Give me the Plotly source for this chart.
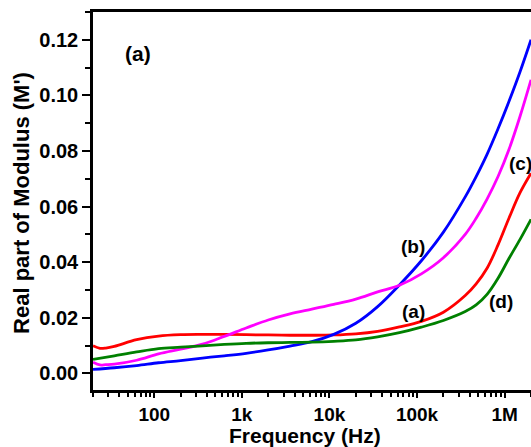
import plotly.graph_objects as go

freq = [20, 35, 63, 112, 200, 355, 630, 1120, 2000, 3550, 6300, 11200,
        20000, 35500, 63000, 112000, 200000, 355000, 473000, 630000, 841000,
        1120000, 1500000, 2000000]
freq_dip = [20, 24, 28] + freq[1:]   # extra low-frequency points for curves with a dip

# (a) red
m_a = [0.0099, 0.0090, 0.0091, 0.0097, 0.0121, 0.0134, 0.0139, 0.0140, 0.0140, 0.0139,
       0.0138, 0.0137, 0.0137, 0.0138, 0.0142, 0.0151, 0.0167, 0.0187, 0.0220, 0.0280,
       0.0322, 0.0378, 0.0462, 0.0558, 0.0650, 0.0720]
# (b) blue
m_b = [0.0014, 0.0020, 0.0028, 0.0038, 0.0046, 0.0055, 0.0063, 0.0072, 0.0084, 0.0098,
       0.0114, 0.0140, 0.0180, 0.0240, 0.0318, 0.0405, 0.0508, 0.0635, 0.0708, 0.0788,
       0.0880, 0.0978, 0.1085, 0.1200]
# (c) magenta
m_c = [0.0040, 0.0030, 0.0031, 0.0033, 0.0047, 0.0070, 0.0087, 0.0105, 0.0133, 0.0163,
       0.0192, 0.0214, 0.0231, 0.0248, 0.0267, 0.0293, 0.0317, 0.0358, 0.0416, 0.0500,
       0.0558, 0.0627, 0.0708, 0.0805, 0.0925, 0.1056]
# (d) green
m_d = [0.0050, 0.0063, 0.0077, 0.0089, 0.0094, 0.0099, 0.0104, 0.0108, 0.0110, 0.0111,
       0.0112, 0.0115, 0.0120, 0.0131, 0.0146, 0.0166, 0.0190, 0.0222, 0.0246, 0.0284,
       0.0342, 0.0413, 0.0482, 0.0554]

series = [
    (freq_dip, m_a, "#ff0000"),
    (freq, m_b, "#0000ff"),
    (freq_dip, m_c, "#ff00ff"),
    (freq, m_d, "#008000"),
]

x_tickvals = [100, 1e3, 1e4, 1e5, 1e6]
x_ticktext = ["100", "1k", "10k", "100k", "1M"]
x_minor = [k * 10 ** d for d in range(1, 7) for k in range(2, 10) if 20 <= k * 10 ** d <= 2e6]
y_tickvals = [0.0, 0.02, 0.04, 0.06, 0.08, 0.10, 0.12]
y_ticktext = ["0.00", "0.02", "0.04", "0.06", "0.08", "0.10", "0.12"]

FONT = "Liberation Sans, Arial, sans-serif"

fig = go.Figure()
for f, m, col in series:
    fig.add_trace(go.Scatter(x=f, y=m, mode="lines",
                             line=dict(color=col, width=2.8, shape="spline", smoothing=1.0)))

curve_labels = [
    ("(b)", 4.95, 0.0455),
    ("(a)", 4.96, 0.0221),
    ("(d)", 5.955, 0.0257),
    ("(c)", 6.18, 0.0756),
]
for t, lx, ly in curve_labels:
    fig.add_annotation(x=lx, y=ly, text=t, showarrow=False,
                       font=dict(family=FONT, size=19, color="black", weight="bold"))
fig.add_annotation(x=1.81, y=0.115, text="(a)", showarrow=False,
                   font=dict(family=FONT, size=21, color="black", weight="bold"))

# axis titles
fig.add_annotation(xref="paper", yref="paper", x=0.484, y=-0.121, text="Frequency (Hz)",
                   showarrow=False, xanchor="center", yanchor="middle",
                   font=dict(family=FONT, size=21, color="black", weight="bold"))
fig.add_annotation(xref="paper", yref="paper", x=-0.162, y=0.495, text="Real part of Modulus (M')",
                   showarrow=False, xanchor="center", yanchor="middle", textangle=-90,
                   font=dict(family=FONT, size=22, color="black", weight="bold"))

fig.update_layout(
    width=531, height=447,
    margin=dict(l=93, r=0, t=12, b=57),
    plot_bgcolor="white", paper_bgcolor="white",
    showlegend=False,
    font=dict(family=FONT, color="black"),
)
fig.update_xaxes(
    type="log", range=[1.30103, 6.30103],
    showline=True, linecolor="black", linewidth=2.5, mirror=True,
    showgrid=False, zeroline=False,
    ticks="outside", ticklen=5, tickwidth=2, tickcolor="black",
    tickvals=x_tickvals, ticktext=x_ticktext,
    tickfont=dict(family=FONT, size=19, weight="bold"),
    minor=dict(ticks="outside", ticklen=4, tickwidth=2, tickcolor="black", tickvals=x_minor),
)
fig.update_yaxes(
    range=[-0.006, 0.13],
    showline=True, linecolor="black", linewidth=2.5, mirror=False,
    showgrid=False, zeroline=False,
    ticks="outside", ticklen=8, tickwidth=2, tickcolor="black",
    tickvals=y_tickvals, ticktext=y_ticktext,
    tickfont=dict(family=FONT, size=20, weight="bold"),
    minor=dict(ticks="outside", ticklen=5, tickwidth=2, tickcolor="black", dtick=0.01, tick0=0),
)

fig.write_html("out.html")
